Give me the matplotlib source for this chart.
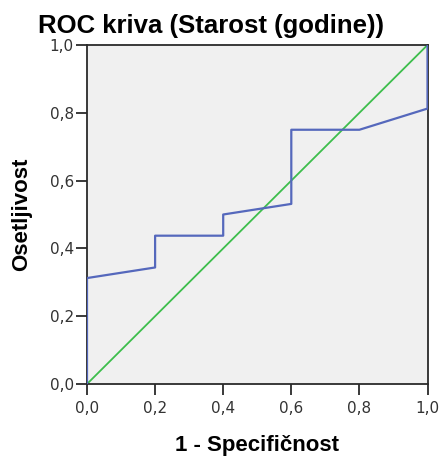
import matplotlib
matplotlib.use("Agg")
import matplotlib.pyplot as plt
from matplotlib.ticker import FixedLocator, FuncFormatter

fpr = [0.0, 0.0, 0.2, 0.2, 0.4, 0.4, 0.6, 0.6, 0.8, 1.0, 1.0]
tpr = [0.0, 0.3125, 0.34375, 0.4375, 0.4375, 0.5, 0.53125, 0.75, 0.75, 0.8125, 1.0]
ref_x = [0.0, 1.0]
ref_y = [0.0, 1.0]
ticks = [0.0, 0.2, 0.4, 0.6, 0.8, 1.0]

plt.rcParams['font.family'] = ['Liberation Sans', 'DejaVu Sans']

fig = plt.figure(figsize=(4.40, 4.59), dpi=100)
ax_w, ax_h = 340.5, 339
ax = fig.add_axes([87/440, 75/459, ax_w/440, ax_h/459])
ax.set_facecolor('#F0F0F0')
ax.plot(ref_x, ref_y, color='#3DBE4C', lw=1.3, zorder=2)
ax.plot(fpr, tpr, color='#5568BC', lw=1.6, zorder=3)
ax.set_xlim(0, 1)
ax.set_ylim(0, 1)
fmt = FuncFormatter(lambda v, p: f"{v:.1f}".replace('.', ','))
ax.xaxis.set_major_locator(FixedLocator(ticks))
ax.yaxis.set_major_locator(FixedLocator(ticks))
ax.xaxis.set_major_formatter(fmt)
ax.yaxis.set_major_formatter(fmt)
ax.tick_params(direction='out', length=8, width=1.3, color='#2a2a2a',
               labelsize=11, labelcolor='#333333')
ax.tick_params(axis='x', pad=4)
ax.tick_params(axis='y', pad=1.5)
for lab in ax.get_xticklabels() + ax.get_yticklabels():
    lab.set_family(['DejaVu Sans'])
for s in ax.spines.values():
    s.set_color('#2a2a2a')
    s.set_linewidth(1.3)

ax.set_xlabel('1 - Specifičnost', fontsize=16, fontweight='bold', va='center')
ax.xaxis.set_label_coords(0.5, -(446 - 384) / ax_h)
ax.set_ylabel('Osetljivost', fontsize=16, fontweight='bold', va='center')
ax.yaxis.set_label_coords(-(87 - 22) / ax_w, 0.5)
fig.text(211/440, 1 - 26/459, 'ROC kriva (Starost (godine))', fontsize=18.5,
         fontweight='bold', ha='center', va='center')

fig.savefig('out.png', dpi=100)
